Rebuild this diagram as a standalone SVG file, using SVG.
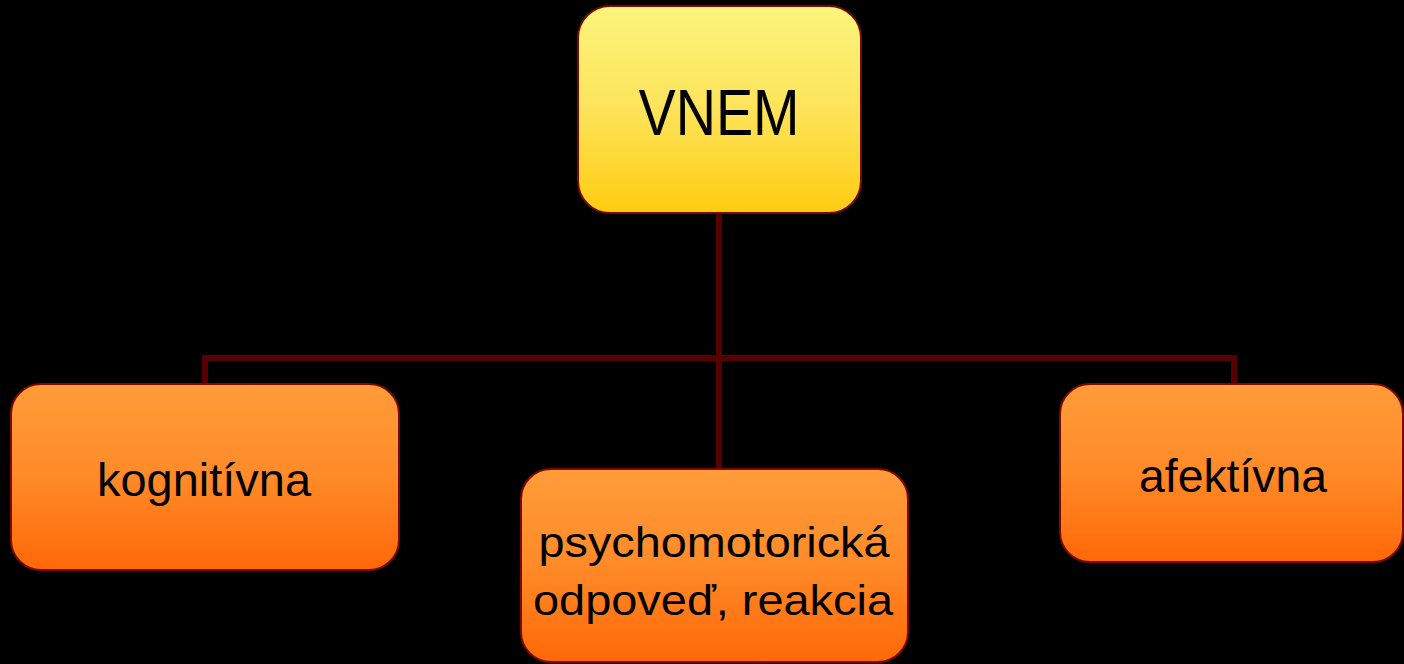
<svg xmlns="http://www.w3.org/2000/svg" width="1404" height="664" viewBox="0 0 1404 664">
  <defs>
    <linearGradient id="gY" x1="0" y1="0" x2="0" y2="1">
      <stop offset="0" stop-color="#faf57c"/>
      <stop offset="0.5" stop-color="#fde35a"/>
      <stop offset="1" stop-color="#ffcc10"/>
    </linearGradient>
    <linearGradient id="gO" x1="0" y1="0" x2="0" y2="1">
      <stop offset="0" stop-color="#ff9c3a"/>
      <stop offset="0.5" stop-color="#ff8a28"/>
      <stop offset="1" stop-color="#ff6808"/>
    </linearGradient>
  </defs>
  <style>
    .box { stroke: #7a0a00; stroke-width: 2; }
    .yel { fill: url(#gY); }
    .ora { fill: url(#gO); }
    .lbl { font-family: "Liberation Sans", Arial, sans-serif; fill: #000; text-anchor: middle; }
    .conn { fill: none; stroke: #560000; stroke-width: 6; }
  </style>
  <rect x="0" y="0" width="1404" height="664" fill="#000"/>
  <g id="connectors">
    <line class="conn" x1="719" y1="213" x2="719" y2="469"/>
    <polyline class="conn" points="205,384 205,358 1234,358 1234,384"/>
  </g>
  <g id="vnem">
    <rect class="box yel" x="578" y="6" width="283" height="207" rx="32" ry="32"/>
    <text class="lbl" x="719" y="135" font-size="64" textLength="161" lengthAdjust="spacingAndGlyphs">VNEM</text>
  </g>
  <g id="kognitivna">
    <rect class="box ora" x="11" y="384" width="388" height="186" rx="30" ry="30"/>
    <text class="lbl" x="204" y="496" font-size="46" textLength="214" lengthAdjust="spacingAndGlyphs">kognitívna</text>
  </g>
  <g id="psychomotoricka">
    <rect class="box ora" x="521" y="469" width="387" height="193" rx="30" ry="30"/>
    <text class="lbl" x="714" y="557" font-size="42" textLength="351" lengthAdjust="spacingAndGlyphs">psychomotorická</text>
    <text class="lbl" x="713" y="615" font-size="42" textLength="360" lengthAdjust="spacingAndGlyphs">odpoveď, reakcia</text>
  </g>
  <g id="afektivna">
    <rect class="box ora" x="1060" y="384" width="343" height="178" rx="30" ry="30"/>
    <text class="lbl" x="1233" y="492" font-size="47" textLength="188" lengthAdjust="spacingAndGlyphs">afektívna</text>
  </g>
</svg>
